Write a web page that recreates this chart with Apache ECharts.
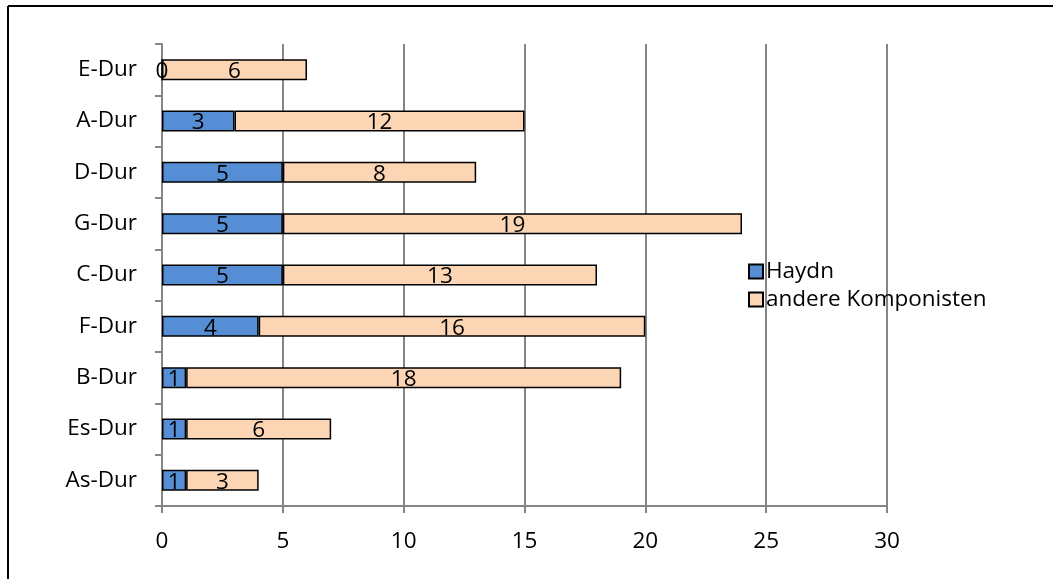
<!DOCTYPE html>
<html>
<head>
<meta charset="utf-8">
<script src="https://cdn.jsdelivr.net/npm/echarts@6/dist/echarts.min.js"></script>
<style>
  html, body { margin: 0; padding: 0; background: #fff; }
  #chart { width: 1053px; height: 579px; }
</style>
</head>
<body>
<div id="chart"></div>
<script>
// Tonarten (von unten nach oben) und Anzahl der Werke
const categories = ['As-Dur', 'Es-Dur', 'B-Dur', 'F-Dur', 'C-Dur', 'G-Dur', 'D-Dur', 'A-Dur', 'E-Dur'];
const haydn = [1, 1, 1, 4, 5, 5, 5, 3, 0];
const andere = [3, 6, 18, 16, 13, 19, 8, 12, 6];
const xTicks = [0, 5, 10, 15, 20, 25, 30];

const FONT = 'Open Sans';
const FS = 22.5;
const AXIS_GRAY = '#868686';

const chart = echarts.init(document.getElementById('chart'));

const labelStyle = {
  show: true,
  position: 'inside',
  color: '#000',
  fontFamily: FONT,
  fontSize: FS,
  offset: [0, 2]
};

chart.setOption({
  animation: false,
  textStyle: { fontFamily: FONT },
  graphic: [
    { type: 'line', shape: { x1: 8, y1: 6, x2: 1053, y2: 6 }, style: { stroke: '#000', lineWidth: 2 } },
    { type: 'line', shape: { x1: 8, y1: 6, x2: 8, y2: 579 }, style: { stroke: '#000', lineWidth: 2 } }
  ],
  grid: { left: 162, right: 166, top: 44, bottom: 73, containLabel: false },
  legend: {
    orient: 'vertical',
    left: 743,
    top: 255,
    itemWidth: 14,
    itemHeight: 14,
    itemGap: 5,
    icon: 'rect',
    textStyle: { fontFamily: FONT, fontSize: FS, color: '#000', padding: [0, 0, 0, -2] },
    data: ['Haydn', 'andere Komponisten']
  },
  xAxis: {
    type: 'value',
    min: xTicks[0],
    max: xTicks[xTicks.length - 1],
    interval: 5,
    axisLine: { show: true, lineStyle: { color: AXIS_GRAY, width: 2 } },
    axisTick: { show: true, length: 7, lineStyle: { color: AXIS_GRAY, width: 2 } },
    axisLabel: { color: '#000', fontFamily: FONT, fontSize: FS, margin: 24 },
    splitLine: { show: true, lineStyle: { color: AXIS_GRAY, width: 2 } }
  },
  yAxis: {
    type: 'category',
    data: categories,
    axisLine: { show: true, lineStyle: { color: AXIS_GRAY, width: 2 } },
    axisTick: { show: true, length: 7, lineStyle: { color: AXIS_GRAY, width: 2 } },
    axisLabel: { color: '#000', fontFamily: FONT, fontSize: FS, margin: 25 },
    splitLine: { show: false }
  },
  series: [
    {
      name: 'Haydn',
      type: 'bar',
      stack: 'werke',
      barWidth: 21,
      data: haydn,
      itemStyle: { color: '#558ED5', borderColor: '#000', borderWidth: 1.5 },
      label: labelStyle
    },
    {
      name: 'andere Komponisten',
      type: 'bar',
      stack: 'werke',
      barWidth: 21,
      data: andere,
      itemStyle: { color: '#FCD5B5', borderColor: '#000', borderWidth: 1.5 },
      label: labelStyle
    }
  ]
});
</script>
</body>
</html>
